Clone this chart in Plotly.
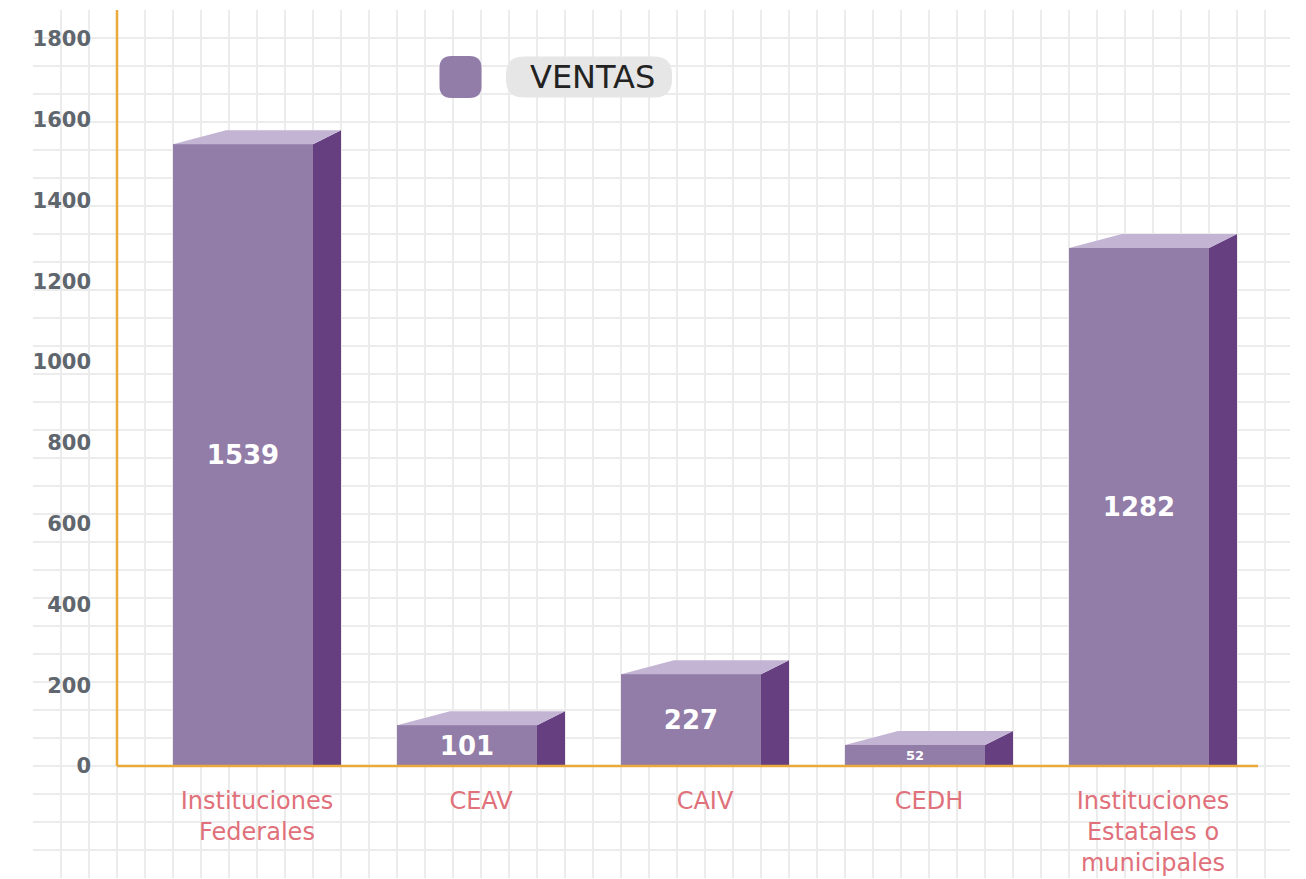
"""
Ventas por institución: barras con efecto 3D sobre fondo cuadriculado
"""
import plotly.graph_objects as go

# --- datos ---
instituciones = ["Instituciones<br>Federales", "CEAV", "CAIV", "CEDH",
                 "Instituciones<br>Estatales o<br>municipales"]
ventas = [1539, 101, 227, 52, 1282]
serie = "VENTAS"
y_ticks = [0, 200, 400, 600, 800, 1000, 1200, 1400, 1600, 1800]

# --- colores ---
FRENTE = '#927ca8'
LADO = '#653f80'
TAPA = '#c3b4d4'
NARANJA = '#e9a93b'
REJILLA = '#ececec'

# --- geometría (pixeles de la página; el body del html agrega 8px) ---
OFF = 8
W, H = 1306 - OFF, 879 - OFF
PL, PR, PT, PB = 33 - OFF, 1290 - OFF, 10 - OFF, 878 - OFF
CERO_Y = 766 - OFF                       # línea del eje x
EJE_X = 117 - OFF                        # línea del eje y
FIN_EJE_X = 1258 - OFF
CELDA = 28
SLOT = 224                               # separación entre barras
CENTRO0 = PL + 7.5 * CELDA               # centro de la primera barra
PX_UNIDAD = 0.404                        # pixeles por unidad de venta

ancho = (PR - PL) / SLOT
x_min = (PL - CENTRO0) / SLOT
y_min = -(PB - CERO_Y) / PX_UNIDAD
y_max = (CERO_Y - PT) / PX_UNIDAD

FRENTE_W = 140 / SLOT
PROF_X = CELDA / SLOT
PROF_Y = 14 / PX_UNIDAD
DESPL_TAPA = 53 / SLOT

pos = list(range(len(ventas)))

fig = go.Figure()
fig.add_trace(go.Bar(
    x=pos, y=ventas, width=FRENTE_W, name=serie,
    marker=dict(color=FRENTE, line=dict(width=0)),
    text=[str(v) for v in ventas], textposition='inside',
    insidetextanchor='middle', constraintext='inside',
    textfont=dict(color='white', size=26, family='DejaVu Sans', weight='bold'),
    showlegend=False, hoverinfo='x+y'
))

shapes = []
for x, v in zip(pos, ventas):
    x0, x1 = x - FRENTE_W / 2, x + FRENTE_W / 2
    # cara lateral
    shapes.append(dict(
        type='path', xref='x', yref='y', layer='above', line=dict(width=0),
        fillcolor=LADO,
        path=f"M{x1},0 L{x1 + PROF_X},0 L{x1 + PROF_X},{v + PROF_Y} L{x1},{v} Z"))
    # tapa
    shapes.append(dict(
        type='path', xref='x', yref='y', layer='above', line=dict(width=0),
        fillcolor=TAPA,
        path=(f"M{x0},{v} L{x0 + DESPL_TAPA},{v + PROF_Y} "
              f"L{x1 + PROF_X},{v + PROF_Y} L{x1},{v} Z")))

# ejes naranjas
eje_x_data = (EJE_X - CENTRO0) / SLOT
shapes.append(dict(type='line', xref='x', yref='y', x0=eje_x_data, x1=eje_x_data,
                   y0=0, y1=y_max, line=dict(color=NARANJA, width=2.5), layer='above'))
shapes.append(dict(type='line', xref='x', yref='y', x0=eje_x_data,
                   x1=(FIN_EJE_X - CENTRO0) / SLOT, y0=0, y1=0,
                   line=dict(color=NARANJA, width=2.5), layer='above'))


def px_x(p):
    return (p - OFF - PL) / (PR - PL)


def px_y(p):
    return (PB - (p - OFF)) / (PB - PT)


def rect_redondeado(w, h, r):
    a, b = w / 2, h / 2
    return (f"M{-a + r},{-b} L{a - r},{-b} Q{a},{-b} {a},{-b + r} "
            f"L{a},{b - r} Q{a},{b} {a - r},{b} L{-a + r},{b} "
            f"Q{-a},{b} {-a},{b - r} L{-a},{-b + r} Q{-a},{-b} {-a + r},{-b} Z")


# leyenda dibujada a mano
shapes.append(dict(type='path', xref='paper', yref='paper', xsizemode='pixel',
                   ysizemode='pixel', xanchor=px_x(460.5), yanchor=px_y(77),
                   path=rect_redondeado(42, 42, 12), fillcolor=FRENTE,
                   line=dict(width=0)))
shapes.append(dict(type='path', xref='paper', yref='paper', xsizemode='pixel',
                   ysizemode='pixel', xanchor=px_x(589), yanchor=px_y(77),
                   path=rect_redondeado(166, 41, 18), fillcolor='#e6e6e6',
                   line=dict(width=0)))

fig.add_annotation(x=px_x(592), y=px_y(77), xref='paper', yref='paper',
                   xanchor='center', yanchor='middle',
                   text=serie, showarrow=False,
                   font=dict(size=32, color='#222222', family='DejaVu Sans'))

fig.update_layout(
    width=W, height=H,
    margin=dict(l=PL, r=W - PR, t=PT, b=H - PB, autoexpand=False),
    paper_bgcolor='white', plot_bgcolor='white',
    shapes=shapes,
    bargap=0,
    xaxis=dict(
        range=[x_min, x_min + ancho], anchor='free', automargin=False,
        position=(PB - CERO_Y) / (PB - PT),
        tickvals=[p + PROF_X / 2 for p in pos], ticktext=instituciones,
        ticks='', showline=False, zeroline=False,
        showgrid=True, gridcolor=REJILLA, gridwidth=1.5,
        minor=dict(dtick=CELDA / SLOT, tick0=x_min, showgrid=True,
                   gridcolor=REJILLA, gridwidth=1.5),
        ticklabelstandoff=18,
        tickfont=dict(size=24, color='#e0707a', family='DejaVu Sans'),
        fixedrange=True
    ),
    yaxis=dict(
        range=[y_min, y_max], anchor='free', automargin=False,
        position=(EJE_X - PL) / (PR - PL),
        tickvals=y_ticks, ticks='', showline=False, zeroline=False,
        showgrid=False,
        minor=dict(dtick=CELDA / PX_UNIDAD, tick0=0, showgrid=True,
                   gridcolor=REJILLA, gridwidth=1.5),
        ticklabelstandoff=26,
        tickfont=dict(size=21, color='#5f666e', family='DejaVu Sans', weight='bold'),
        fixedrange=True
    ),
)

fig.write_html("out.html")
